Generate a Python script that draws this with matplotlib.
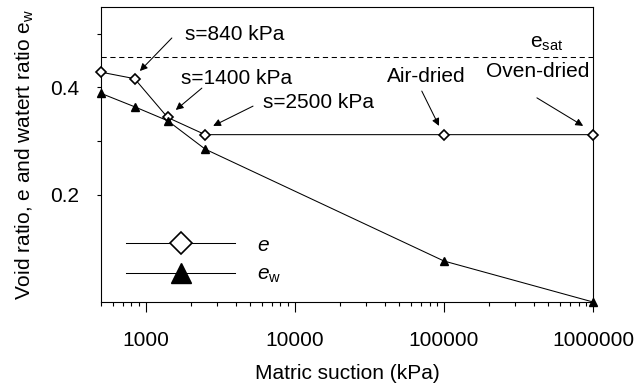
import matplotlib
matplotlib.use('Agg')
import matplotlib.pyplot as plt
from matplotlib.ticker import FixedLocator, NullFormatter

plt.rcParams['font.family'] = ['Liberation Sans', 'DejaVu Sans']
plt.rcParams['mathtext.fontset'] = 'custom'
plt.rcParams['mathtext.rm'] = 'Liberation Sans'
plt.rcParams['mathtext.it'] = 'Liberation Sans:italic'
plt.rcParams['font.size'] = 15

# data
suction = [500, 840, 1400, 2500, 100000, 1000000]
void_ratio = [0.4285, 0.4164, 0.344, 0.312, 0.312, 0.312]
water_ratio = [0.389, 0.364, 0.338, 0.285, 0.0764, 0.0]
e_sat = 0.457

x_ticks = [1000, 10000, 100000, 1000000]
x_ticklabels = ['1000', '10000', '100000', '1000000']
y_ticks = [0.2, 0.3, 0.4, 0.5]
y_ticklabels = ['0.2', '', '0.4', '']

fig = plt.figure(figsize=(6.35, 3.83), dpi=100)
ax = fig.add_axes([101 / 635, 81 / 383, 492 / 635, 295 / 383])

ax.plot(suction, void_ratio, color='k', lw=0.75, marker='D', ms=5,
        mfc='white', mec='k', mew=1.2, label='$e$', clip_on=False, zorder=3)
ax.plot(suction, water_ratio, color='k', lw=0.75, marker='^', ms=6.3,
        mfc='k', mec='k', label='$e_{\\rm w}$', clip_on=False, zorder=3)
ax.axhline(e_sat, color='k', lw=0.75, ls=(0, (5, 3.5)))

ax.set_xscale('log')
ax.set_xlim(500, 1000000)
ax.set_ylim(0, 0.55)
ax.xaxis.set_major_locator(FixedLocator(x_ticks))
ax.set_xticklabels(x_ticklabels)
ax.xaxis.set_minor_formatter(NullFormatter())
ax.set_yticks(y_ticks)
ax.set_yticklabels(y_ticklabels)
ax.tick_params(axis='x', which='major', direction='out', length=7, width=0.8, pad=14)
ax.tick_params(axis='x', which='minor', direction='out', length=3, width=0.8)
ax.tick_params(axis='y', direction='out', length=3, width=0.8, pad=13)
for s in ax.spines.values():
    s.set_linewidth(0.8)

ax.set_xlabel('Matric suction (kPa)', labelpad=10)
ax.set_ylabel('Void ratio, e and watert ratio e$_{\\rm w}$', labelpad=10)

# annotations (axes fraction positions)
arrow = dict(arrowstyle='-|>', color='k', lw=0.75, mutation_scale=11,
             shrinkA=0, shrinkB=0)
notes = [
    ('s=840 kPa', (0.171, 0.908), (0.144, 0.895), (0.079, 0.783)),
    ('s=1400 kPa', (0.163, 0.759), (0.205, 0.725), (0.152, 0.651)),
    ('s=2500 kPa', (0.329, 0.675), (0.309, 0.664), (0.228, 0.597)),
    ('Air-dried', (0.581, 0.763), (0.652, 0.715), (0.687, 0.597)),
    ('Oven-dried', (0.783, 0.780), (0.886, 0.692), (0.980, 0.597)),
]
for txt, tpos, start, tip in notes:
    ax.text(tpos[0], tpos[1], txt, transform=ax.transAxes, ha='left', va='center')
    ax.annotate('', xy=tip, xycoords='axes fraction', xytext=start,
                textcoords='axes fraction', arrowprops=arrow)
ax.text(0.872, 0.875, 'e$_{\\rm sat}$', transform=ax.transAxes, ha='left', va='center')

leg = ax.legend(loc='center left', bbox_to_anchor=(0.051, 0.141), frameon=False,
                markerscale=2.3, handlelength=5.24, handletextpad=1.06,
                labelspacing=0.5, borderpad=0, borderaxespad=0)

fig.savefig('out.png', dpi=100)
